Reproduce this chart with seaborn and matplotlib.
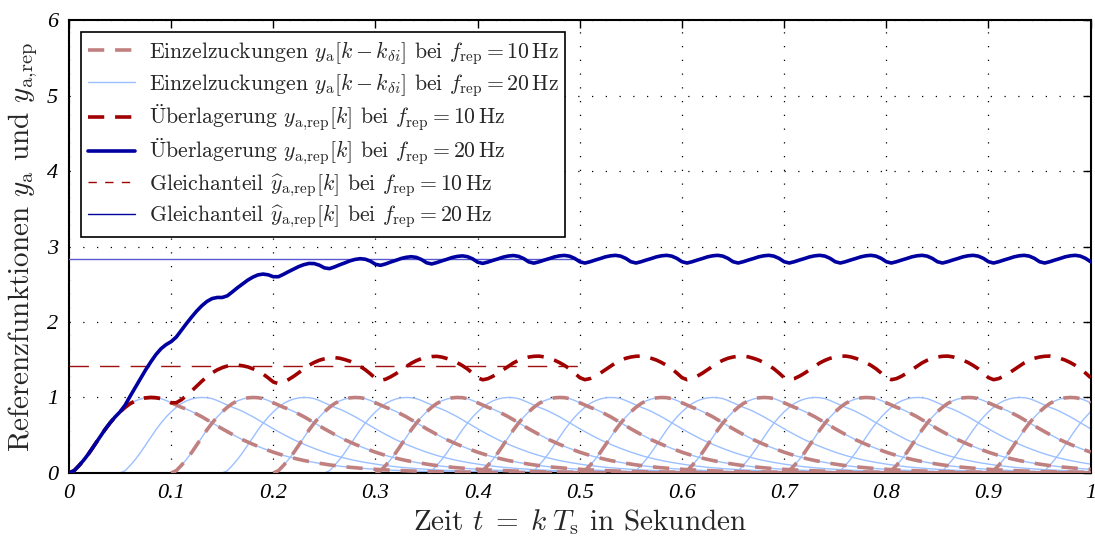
import numpy as np
import pandas as pd
import matplotlib
matplotlib.use("Agg")
import matplotlib.pyplot as plt
from matplotlib.lines import Line2D
import seaborn as sns

# ---------------- data ----------------
T_STEP = 0.005         # sampling step of the twitch (s)
T_END = 1.0
# single twitch y_a(tau), tau = 0, 0.005, ..., 0.60 s
TWITCH = [0.0, 0.03, 0.10, 0.18, 0.27, 0.37, 0.47, 0.57, 0.66, 0.74,
          0.81, 0.87, 0.92, 0.955, 0.98, 0.995, 1.00, 0.997, 0.985, 0.96,
          0.93, 0.90, 0.87, 0.845, 0.815, 0.78, 0.745, 0.705, 0.665, 0.625,
          0.585, 0.547, 0.51, 0.475, 0.44, 0.41, 0.38, 0.352, 0.325, 0.30,
          0.275, 0.253, 0.232, 0.213, 0.196, 0.18, 0.165, 0.152, 0.139, 0.128,
          0.117, 0.107, 0.098, 0.09, 0.082, 0.075, 0.069, 0.063, 0.058, 0.053,
          0.048, 0.044, 0.040, 0.037, 0.034, 0.031, 0.028, 0.026, 0.024, 0.022,
          0.020, 0.018, 0.017, 0.015, 0.014, 0.013, 0.012, 0.011, 0.010, 0.009,
          0.008, 0.0075, 0.007, 0.0065, 0.006, 0.0055, 0.005, 0.0045, 0.004, 0.0037,
          0.0035, 0.0032, 0.003, 0.0027, 0.0025, 0.0022, 0.002, 0.0018, 0.0017, 0.0015,
          0.0014, 0.0013, 0.0012, 0.0011, 0.001, 0.0009, 0.0008, 0.0008, 0.0007, 0.0006,
          0.0006, 0.0005, 0.0005, 0.0004, 0.0004, 0.0003, 0.0003, 0.0003, 0.0002, 0.0002,
          0.0002]
ONSETS_10HZ = [0.0, 0.1, 0.2, 0.3, 0.4, 0.5, 0.6, 0.7, 0.8, 0.9]
ONSETS_20HZ = [0.0, 0.05, 0.1, 0.15, 0.2, 0.25, 0.3, 0.35, 0.4, 0.45,
               0.5, 0.55, 0.6, 0.65, 0.7, 0.75, 0.8, 0.85, 0.9, 0.95]
MEAN_10HZ = 1.42
MEAN_20HZ = 2.84
MEAN_SPAN = [0.0, 0.5]
XTICKS = [0.0, 0.1, 0.2, 0.3, 0.4, 0.5, 0.6, 0.7, 0.8, 0.9, 1.0]
XTICKLABELS = ["0", "0.1", "0.2", "0.3", "0.4", "0.5", "0.6", "0.7", "0.8", "0.9", "1"]
YTICKS = [0, 1, 2, 3, 4, 5, 6]
YTICKLABELS = ["0", "1", "2", "3", "4", "5", "6"]

LABELS = [
    r"Einzelzuckungen $y_\mathrm{a}[k-k_{\delta i}]$ bei $f_\mathrm{rep}=10\,\mathrm{Hz}$",
    r"Einzelzuckungen $y_\mathrm{a}[k-k_{\delta i}]$ bei $f_\mathrm{rep}=20\,\mathrm{Hz}$",
    r"$\ddot{\mathrm{U}}$berlagerung $y_\mathrm{a,\!rep}[k]$ bei $f_\mathrm{rep}=10\,\mathrm{Hz}$",
    r"$\ddot{\mathrm{U}}$berlagerung $y_\mathrm{a,\!rep}[k]$ bei $f_\mathrm{rep}=20\,\mathrm{Hz}$",
    r"Gleichanteil $\widehat{y}_\mathrm{a,\!rep}[k]$ bei $f_\mathrm{rep}=10\,\mathrm{Hz}$",
    r"Gleichanteil $\widehat{y}_\mathrm{a,\!rep}[k]$ bei $f_\mathrm{rep}=20\,\mathrm{Hz}$",
]
XLABEL = r"Zeit $t\;=\;k\;T_\mathrm{s}$ in Sekunden"
YLABEL = r"Referenzfunktionen $y_\mathrm{a}$ und $y_\mathrm{a,\!rep}$"

# ---------------- styling ----------------
sns.set_style("white")
plt.rcParams["font.family"] = ["cmr10", "DejaVu Serif"]
plt.rcParams["mathtext.fontset"] = "cm"
plt.rcParams["axes.unicode_minus"] = False

C_SINGLE10 = "#c08080"
C_SINGLE20 = "#9cc0ff"
C_SUM10 = "#a00000"
C_SUM20 = "#0000a0"
C_MEAN10 = "#a01010"
C_MEAN20 = "#5a5ad0"
DASH_THICK = (0, (4.5, 3.0))

fig = plt.figure(figsize=(10.95, 5.43), dpi=100)
ax = fig.add_axes([0.063, 0.129, 0.933, 0.834])

n = int(round(T_END / T_STEP)) + 1
t = np.round(np.arange(n) * T_STEP, 6)
tw = np.zeros(n)
m = min(n, len(TWITCH))
tw[:m] = TWITCH[:m]


def shifted(onset):
    idx = int(round(onset / T_STEP))
    y = np.zeros(n)
    y[idx:] = tw[:n - idx]
    return idx, y


sum10 = np.zeros(n)
sum20 = np.zeros(n)

# 20 Hz singles (behind)
for o in ONSETS_20HZ:
    idx, y = shifted(o)
    sum20 += y
    df = pd.DataFrame({"t": t[idx:], "y": y[idx:]})
    sns.lineplot(data=df, x="t", y="y", ax=ax, color=C_SINGLE20, lw=1.0,
                 estimator=None, sort=False, zorder=2)

# 10 Hz singles
for o in ONSETS_10HZ:
    idx, y = shifted(o)
    sum10 += y
    df = pd.DataFrame({"t": t[idx:], "y": y[idx:]})
    sns.lineplot(data=df, x="t", y="y", ax=ax, color=C_SINGLE10, lw=2.6,
                 linestyle=DASH_THICK, estimator=None, sort=False, zorder=3)

# mean (Gleichanteil) lines
sns.lineplot(x=MEAN_SPAN, y=[MEAN_10HZ, MEAN_10HZ], ax=ax, color=C_MEAN10, lw=1.0,
             linestyle=(0, (14, 8)), estimator=None, zorder=4)
sns.lineplot(x=MEAN_SPAN, y=[MEAN_20HZ, MEAN_20HZ], ax=ax, color=C_MEAN20, lw=1.0,
             estimator=None, zorder=4)

# overlays
sns.lineplot(x=t, y=sum10, ax=ax, color=C_SUM10, lw=2.6,
             linestyle=DASH_THICK, estimator=None, sort=False, zorder=5)
sns.lineplot(x=t, y=sum20, ax=ax, color=C_SUM20, lw=2.6,
             estimator=None, sort=False, zorder=5)

leg_handles = [
    Line2D([], [], color=C_SINGLE10, lw=2.6, linestyle=DASH_THICK),
    Line2D([], [], color=C_SINGLE20, lw=1.0),
    Line2D([], [], color=C_SUM10, lw=2.6, linestyle=DASH_THICK),
    Line2D([], [], color=C_SUM20, lw=2.6),
    Line2D([], [], color=C_SUM10, lw=1.0, linestyle=(0, (6, 6))),
    Line2D([], [], color=C_SUM20, lw=1.0),
]
leg = ax.legend(leg_handles, LABELS, loc="upper left", fontsize=15.7,
                frameon=True, fancybox=False, edgecolor="black", framealpha=1,
                borderaxespad=0.55, handlelength=2.2, handletextpad=0.6,
                labelspacing=0.19, borderpad=0.3)
leg.get_frame().set_linewidth(1.2)
leg.set_zorder(10)

ax.set_xlim(0, 1)
ax.set_ylim(0, 6)
ax.set_xticks(XTICKS)
ax.set_xticklabels(XTICKLABELS, fontfamily="Liberation Serif", fontstyle="italic", fontsize=16)
ax.set_yticks(YTICKS)
ax.set_yticklabels(YTICKLABELS, fontfamily="Liberation Serif", fontstyle="italic", fontsize=16)
ax.tick_params(direction="in", length=6, width=1.0, top=True, right=True,
               colors="black", pad=8)
ax.grid(True, color="black", linestyle=(0, (1, 10)), linewidth=0.9)
for s in ax.spines.values():
    s.set_color("black")
    s.set_linewidth(1.5)
ax.set_xlabel(XLABEL, fontsize=21, labelpad=3)
ax.set_ylabel(YLABEL, fontsize=21, labelpad=5)

fig.savefig("out.png", dpi=100)
